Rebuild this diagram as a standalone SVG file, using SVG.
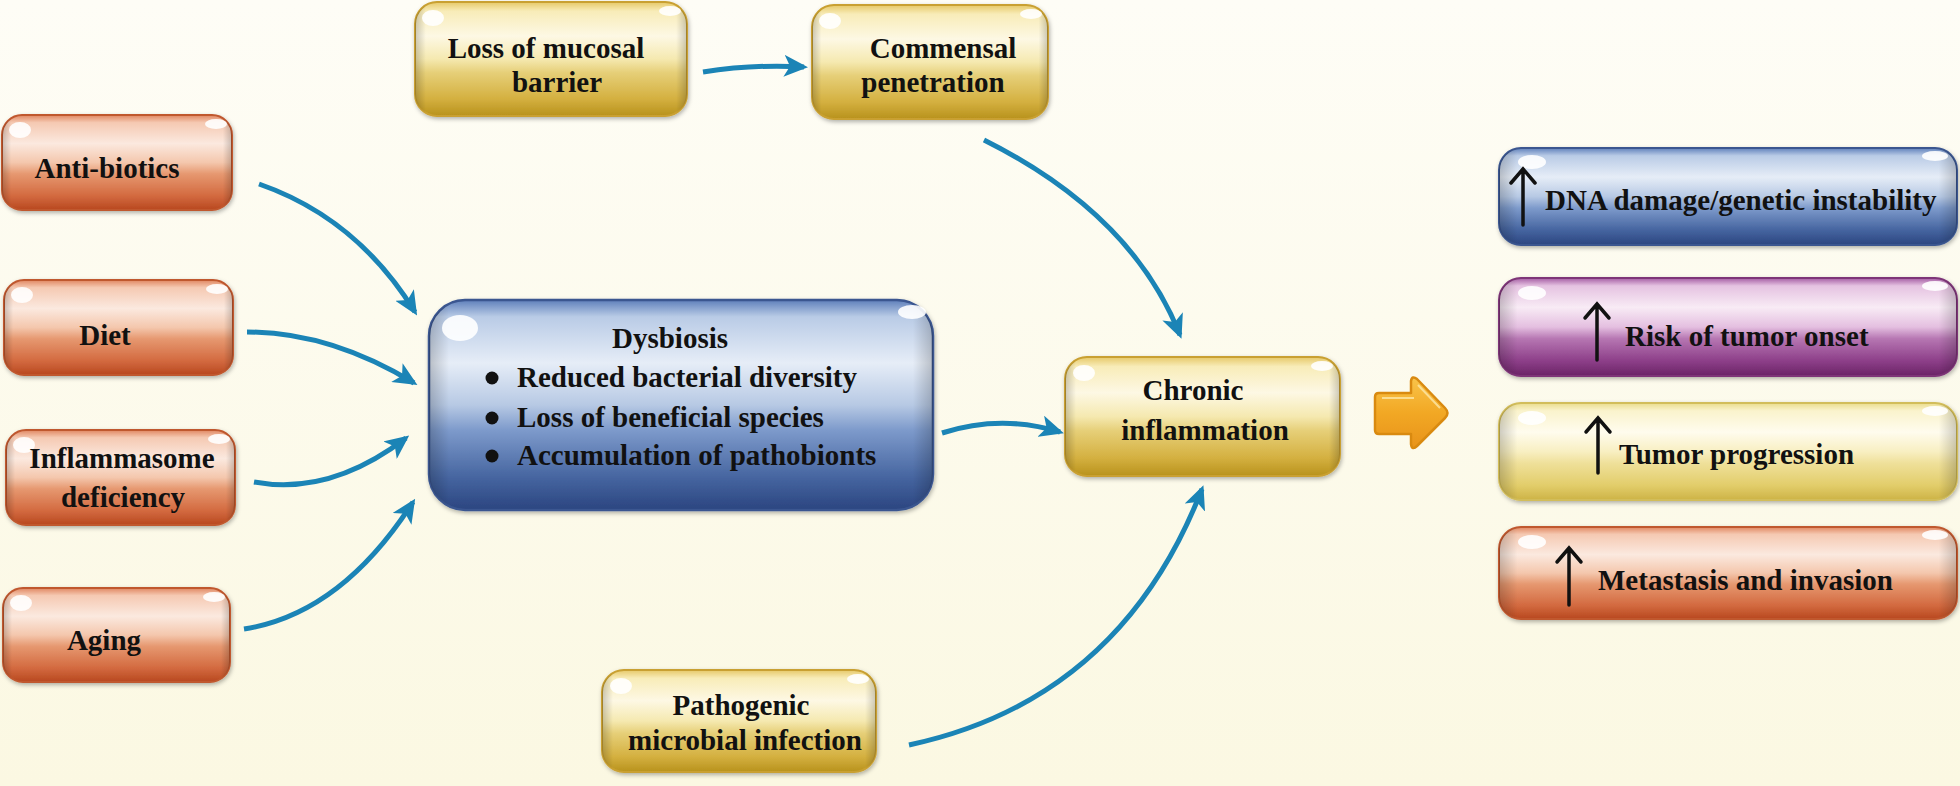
<svg xmlns="http://www.w3.org/2000/svg" width="1960" height="786" viewBox="0 0 1960 786">
<defs>
<style>
.t{font-family:"Liberation Serif","Times New Roman",serif;font-weight:bold;font-size:29px;fill:#111;text-anchor:middle}
.s{text-anchor:start}
.c{fill:none;stroke:#1b84b6;stroke-width:5;marker-end:url(#ah)}
.up{fill:none;stroke:#111;stroke-width:3.5;stroke-linecap:round;stroke-linejoin:miter}
.hl{fill:#fff;opacity:0.9}
.side{fill:url(#gSide)}
</style>
<linearGradient id="bg" x1="0" y1="0" x2="0" y2="1">
<stop offset="0" stop-color="#fefdf6"/>
<stop offset="1" stop-color="#fbf8e2"/>
</linearGradient>
<linearGradient id="gO" x1="0" y1="0" x2="0" y2="1">
<stop offset="0" stop-color="#e08660"/>
<stop offset="0.08" stop-color="#f5c9b2"/>
<stop offset="0.3" stop-color="#fbe9df"/>
<stop offset="0.5" stop-color="#f4c7ad"/>
<stop offset="0.62" stop-color="#e69870"/>
<stop offset="0.85" stop-color="#d36a40"/>
<stop offset="1" stop-color="#b8481f"/>
</linearGradient>
<linearGradient id="gY" x1="0" y1="0" x2="0" y2="1">
<stop offset="0" stop-color="#e6c868"/>
<stop offset="0.08" stop-color="#f8ecb8"/>
<stop offset="0.3" stop-color="#fdf8e4"/>
<stop offset="0.5" stop-color="#f5e9b0"/>
<stop offset="0.62" stop-color="#e6cf78"/>
<stop offset="0.85" stop-color="#d4b040"/>
<stop offset="1" stop-color="#b8921c"/>
</linearGradient>
<linearGradient id="gB" x1="0" y1="0" x2="0" y2="1">
<stop offset="0" stop-color="#5f80bb"/>
<stop offset="0.08" stop-color="#b9cbe6"/>
<stop offset="0.3" stop-color="#e6edf7"/>
<stop offset="0.5" stop-color="#b7c9e4"/>
<stop offset="0.62" stop-color="#7d9acb"/>
<stop offset="0.85" stop-color="#45649f"/>
<stop offset="1" stop-color="#2b4580"/>
</linearGradient>
<linearGradient id="gP" x1="0" y1="0" x2="0" y2="1">
<stop offset="0" stop-color="#a45ca3"/>
<stop offset="0.08" stop-color="#e5c2e1"/>
<stop offset="0.3" stop-color="#f8ebf5"/>
<stop offset="0.5" stop-color="#e4bfe0"/>
<stop offset="0.62" stop-color="#b676b2"/>
<stop offset="0.85" stop-color="#8c3e88"/>
<stop offset="1" stop-color="#6a2466"/>
</linearGradient>
<linearGradient id="gL" x1="0" y1="0" x2="0" y2="1">
<stop offset="0" stop-color="#eadc8c"/>
<stop offset="0.08" stop-color="#faf3cc"/>
<stop offset="0.3" stop-color="#fffcee"/>
<stop offset="0.5" stop-color="#f8efc2"/>
<stop offset="0.62" stop-color="#efe09a"/>
<stop offset="0.85" stop-color="#e2cd6a"/>
<stop offset="1" stop-color="#cdb346"/>
</linearGradient>
<linearGradient id="gSide" x1="0" y1="0" x2="1" y2="0">
<stop offset="0" stop-color="#000" stop-opacity="0.2"/>
<stop offset="0.04" stop-color="#000" stop-opacity="0"/>
<stop offset="0.96" stop-color="#000" stop-opacity="0"/>
<stop offset="1" stop-color="#000" stop-opacity="0.2"/>
</linearGradient>
<linearGradient id="gArr" x1="0" y1="0" x2="0" y2="1">
<stop offset="0" stop-color="#f9c44a"/>
<stop offset="0.5" stop-color="#f2a824"/>
<stop offset="1" stop-color="#e8931a"/>
</linearGradient>
<filter id="sh" x="-5%" y="-10%" width="110%" height="125%">
<feDropShadow dx="1" dy="2" stdDeviation="2" flood-color="#000" flood-opacity="0.3"/>
</filter>
<marker id="ah" viewBox="0 0 24 22" refX="20" refY="11" markerWidth="24" markerHeight="22" markerUnits="userSpaceOnUse" orient="auto">
<path d="M0,0 L24,11 L0,22 L6,11 Z" fill="#1b84b6"/>
</marker>
</defs>
<rect width="1960" height="786" fill="url(#bg)"/>

<g id="connectors">
<path class="c" d="M259,184 Q357,218 415,312"/>
<path class="c" d="M247,332 Q330,332 414,383"/>
<path class="c" d="M254,482 Q330,496 406,438"/>
<path class="c" d="M244,629 Q341,614 413,502"/>
<path class="c" d="M703,72 Q754,64 804,67"/>
<path class="c" d="M984,140 Q1132,214 1180,335"/>
<path class="c" d="M942,433 Q1001,414 1060,432"/>
<path class="c" d="M909,745 Q1120,700 1202,489"/>
</g>

<g id="antibiotics">
<rect x="2" y="115" width="230" height="95" rx="20" fill="url(#gO)" stroke="#c0582f" stroke-width="2" filter="url(#sh)"/>
<rect x="2" y="115" width="230" height="95" rx="20" class="side"/>
<ellipse cx="20" cy="130" rx="11" ry="8" class="hl"/>
<ellipse cx="216" cy="124" rx="11" ry="5" class="hl"/>
<text x="107" y="178" class="t">Anti-biotics</text>
</g>

<g id="diet">
<rect x="4" y="280" width="229" height="95" rx="20" fill="url(#gO)" stroke="#c0582f" stroke-width="2" filter="url(#sh)"/>
<rect x="4" y="280" width="229" height="95" rx="20" class="side"/>
<ellipse cx="22" cy="295" rx="11" ry="8" class="hl"/>
<ellipse cx="217" cy="289" rx="11" ry="5" class="hl"/>
<text x="105" y="345" class="t">Diet</text>
</g>

<g id="inflammasome">
<rect x="6" y="430" width="229" height="95" rx="20" fill="url(#gO)" stroke="#c0582f" stroke-width="2" filter="url(#sh)"/>
<rect x="6" y="430" width="229" height="95" rx="20" class="side"/>
<ellipse cx="24" cy="445" rx="11" ry="8" class="hl"/>
<ellipse cx="219" cy="439" rx="11" ry="5" class="hl"/>
<text x="122" y="468" class="t">Inflammasome</text>
<text x="123" y="507" class="t">deficiency</text>
</g>

<g id="aging">
<rect x="3" y="588" width="227" height="94" rx="20" fill="url(#gO)" stroke="#c0582f" stroke-width="2" filter="url(#sh)"/>
<rect x="3" y="588" width="227" height="94" rx="20" class="side"/>
<ellipse cx="21" cy="603" rx="11" ry="8" class="hl"/>
<ellipse cx="214" cy="597" rx="11" ry="5" class="hl"/>
<text x="104" y="650" class="t">Aging</text>
</g>

<g id="loss-mucosal">
<rect x="415" y="2" width="272" height="114" rx="22" fill="url(#gY)" stroke="#c9a030" stroke-width="2" filter="url(#sh)"/>
<rect x="415" y="2" width="272" height="114" rx="22" class="side"/>
<ellipse cx="433" cy="18" rx="11" ry="8" class="hl"/>
<ellipse cx="670" cy="11" rx="11" ry="5" class="hl"/>
<text x="546" y="58" class="t">Loss of mucosal</text>
<text x="557" y="92" class="t">barrier</text>
</g>

<g id="commensal">
<rect x="812" y="5" width="236" height="114" rx="22" fill="url(#gY)" stroke="#c9a030" stroke-width="2" filter="url(#sh)"/>
<rect x="812" y="5" width="236" height="114" rx="22" class="side"/>
<ellipse cx="830" cy="21" rx="11" ry="8" class="hl"/>
<ellipse cx="1031" cy="14" rx="11" ry="5" class="hl"/>
<text x="943" y="58" class="t">Commensal</text>
<text x="933" y="92" class="t">penetration</text>
</g>

<g id="dysbiosis">
<rect x="429" y="300" width="504" height="210" rx="36" fill="url(#gB)" stroke="#3a5690" stroke-width="2.5" filter="url(#sh)"/>
<rect x="429" y="300" width="504" height="210" rx="36" class="side"/>
<ellipse cx="460" cy="328" rx="18" ry="13" class="hl"/>
<ellipse cx="912" cy="312" rx="14" ry="7" class="hl"/>
<text x="670" y="348" class="t">Dysbiosis</text>
<circle cx="492" cy="378" r="6.5" fill="#111"/>
<circle cx="492" cy="418" r="6.5" fill="#111"/>
<circle cx="492" cy="456" r="6.5" fill="#111"/>
<text x="517" y="387" class="t s">Reduced bacterial diversity</text>
<text x="517" y="427" class="t s">Loss of beneficial species</text>
<text x="517" y="465" class="t s">Accumulation of pathobionts</text>
</g>

<g id="chronic">
<rect x="1065" y="357" width="275" height="119" rx="22" fill="url(#gY)" stroke="#c9a030" stroke-width="2" filter="url(#sh)"/>
<rect x="1065" y="357" width="275" height="119" rx="22" class="side"/>
<ellipse cx="1084" cy="373" rx="11" ry="8" class="hl"/>
<ellipse cx="1322" cy="366" rx="11" ry="5" class="hl"/>
<text x="1193" y="400" class="t">Chronic</text>
<text x="1205" y="440" class="t">inflammation</text>
</g>

<g id="pathogenic">
<rect x="602" y="670" width="274" height="102" rx="22" fill="url(#gY)" stroke="#c9a030" stroke-width="2" filter="url(#sh)"/>
<rect x="602" y="670" width="274" height="102" rx="22" class="side"/>
<ellipse cx="621" cy="686" rx="11" ry="8" class="hl"/>
<ellipse cx="858" cy="679" rx="11" ry="5" class="hl"/>
<text x="741" y="715" class="t">Pathogenic</text>
<text x="745" y="750" class="t">microbial infection</text>
</g>

<g id="big-arrow">
<path d="M1379,393 L1411,393 L1411,381 Q1412,375 1417,379 L1445,408 Q1450,413 1445,418 L1417,446 Q1412,451 1411,444 L1411,434 L1379,434 Q1375,434 1375,430 L1375,397 Q1375,393 1379,393 Z" fill="url(#gArr)" stroke="#d98a10" stroke-width="2.5" stroke-linejoin="round"/>
<path d="M1382,398 L1414,398 M1418,385 L1440,408" stroke="#fde7a8" stroke-width="2" fill="none" opacity="0.8"/>
</g>

<g id="dna-damage">
<rect x="1499" y="148" width="458" height="97" rx="22" fill="url(#gB)" stroke="#3a5690" stroke-width="2" filter="url(#sh)"/>
<rect x="1499" y="148" width="458" height="97" rx="22" class="side"/>
<ellipse cx="1532" cy="162" rx="14" ry="7" class="hl"/>
<ellipse cx="1935" cy="156" rx="13" ry="5" class="hl"/>
<path class="up" d="M1523,225 L1523,169 M1511,183 L1523,169 L1535,183"/>
<text x="1545" y="210" class="t s">DNA damage/genetic instability</text>
</g>

<g id="tumor-onset">
<rect x="1499" y="278" width="458" height="98" rx="22" fill="url(#gP)" stroke="#7e3478" stroke-width="2" filter="url(#sh)"/>
<rect x="1499" y="278" width="458" height="98" rx="22" class="side"/>
<ellipse cx="1532" cy="293" rx="14" ry="7" class="hl"/>
<ellipse cx="1935" cy="286" rx="13" ry="5" class="hl"/>
<path class="up" d="M1597,360 L1597,304 M1585,318 L1597,304 L1609,318"/>
<text x="1625" y="346" class="t s">Risk of tumor onset</text>
</g>

<g id="tumor-progression">
<rect x="1499" y="403" width="458" height="97" rx="22" fill="url(#gL)" stroke="#d2bd5a" stroke-width="2" filter="url(#sh)"/>
<rect x="1499" y="403" width="458" height="97" rx="22" class="side"/>
<ellipse cx="1532" cy="418" rx="14" ry="7" class="hl"/>
<ellipse cx="1935" cy="411" rx="13" ry="5" class="hl"/>
<path class="up" d="M1598,473 L1598,418 M1586,432 L1598,418 L1610,432"/>
<text x="1619" y="464" class="t s">Tumor progression</text>
</g>

<g id="metastasis">
<rect x="1499" y="527" width="458" height="92" rx="22" fill="url(#gO)" stroke="#c0582f" stroke-width="2" filter="url(#sh)"/>
<rect x="1499" y="527" width="458" height="92" rx="22" class="side"/>
<ellipse cx="1532" cy="542" rx="14" ry="7" class="hl"/>
<ellipse cx="1935" cy="535" rx="13" ry="5" class="hl"/>
<path class="up" d="M1569,605 L1569,548 M1557,562 L1569,548 L1581,562"/>
<text x="1598" y="590" class="t s">Metastasis and invasion</text>
</g>
</svg>
